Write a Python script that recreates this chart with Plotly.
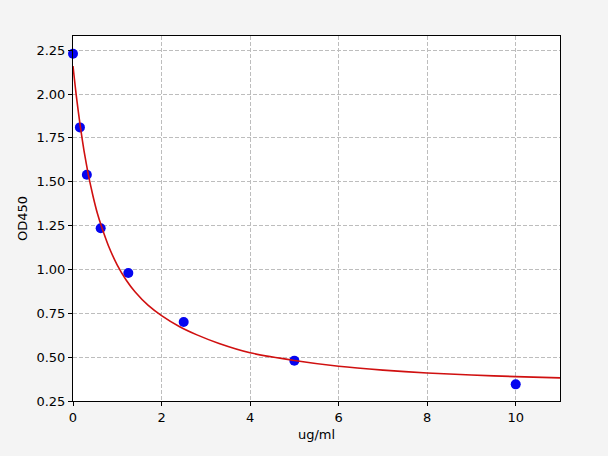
import plotly.graph_objects as go

# standard points
conc = [0, 0.156, 0.3125, 0.625, 1.25, 2.5, 5, 10]
od450 = [2.23, 1.81, 1.54, 1.235, 0.98, 0.70, 0.48, 0.345]

# fitted curve
curve_x = [0, 0.03, 0.07, 0.12, 0.18, 0.25, 0.35, 0.45, 0.55, 0.65, 0.8, 1.0,
           1.2, 1.4, 1.7, 2.0, 2.4, 2.8, 3.3, 4.0, 5.0, 6.0, 7.0, 8.0, 9.0,
           10.0, 11.0]
curve_y = [2.16, 2.09, 2.0, 1.90, 1.79, 1.675, 1.535, 1.42, 1.32, 1.24, 1.135,
           1.025, 0.94, 0.873, 0.795, 0.737, 0.675, 0.627, 0.578, 0.525, 0.481,
           0.448, 0.426, 0.41, 0.398, 0.389, 0.382]

font = dict(family='DejaVu Sans', size=13, color='black')

fig = go.Figure()

fig.add_trace(go.Scatter(
    x=conc, y=od450,
    mode='markers',
    marker=dict(color='#0505f0', size=10),
    cliponaxis=False,
    showlegend=False
))

fig.add_trace(go.Scatter(
    x=curve_x, y=curve_y,
    mode='lines',
    line=dict(color='#d01010', width=1.6, shape='spline', smoothing=0.5),
    showlegend=False
))

axis_common = dict(
    showline=True, mirror=True, linecolor='black', linewidth=1,
    ticks='outside', ticklen=4, tickcolor='black',
    showgrid=True, gridcolor='#bdbdbd', griddash='4px,2px', gridwidth=1,
    zeroline=False, tickfont=font
)

fig.update_xaxes(range=[0, 11], tickvals=[0, 2, 4, 6, 8, 10],
                 title=dict(text='ug/ml', font=font, standoff=6), **axis_common)
fig.update_yaxes(range=[0.25, 2.331], tickvals=[0.25, 0.5, 0.75, 1.0, 1.25, 1.5, 1.75, 2.0, 2.25],
                 tickformat='.2f',
                 title=dict(text='OD450', font=font, standoff=5), **axis_common)

fig.update_layout(
    width=608, height=456,
    margin=dict(l=73, r=48, t=36, b=55),
    paper_bgcolor='#f4f4f4',
    plot_bgcolor='white',
    font=font
)

# page has a default body margin; drop it so the figure fills the window
fig.write_html("out.html", config={'displayModeBar': False},
               post_script="document.body.style.margin='0';document.body.style.background='#f4f4f4';")
